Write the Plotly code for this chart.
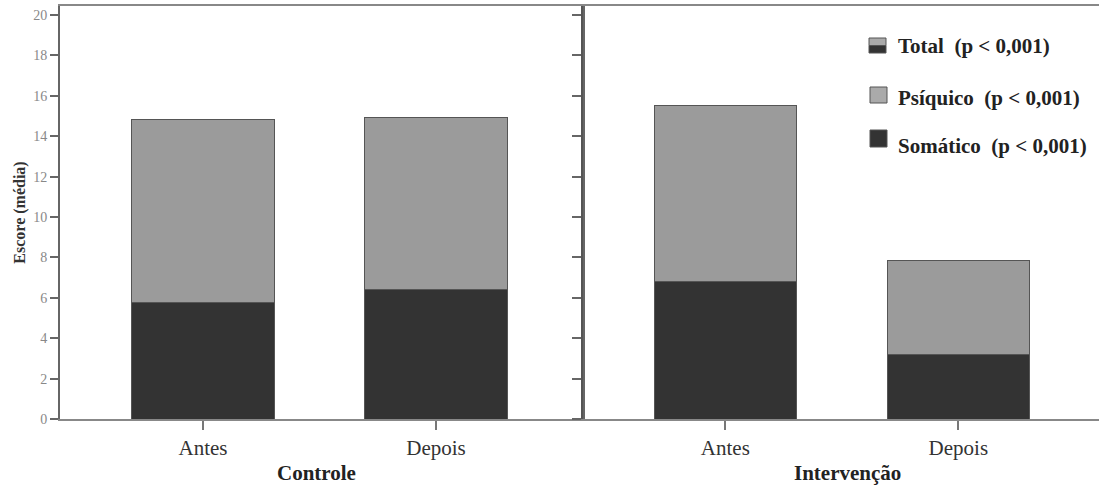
import plotly.graph_objects as go

# ---- data ----
fases = ["Antes", "Depois"]
grupos = ["Controle", "Intervenção"]
somatico_controle = [5.77, 6.43]
psiquico_controle = [9.07, 8.52]
somatico_intervencao = [6.82, 3.19]
psiquico_intervencao = [8.70, 4.64]
y_ticks = [0, 2, 4, 6, 8, 10, 12, 14, 16, 18, 20]
legend_labels = ["Total  (p < 0,001)", "Psíquico  (p < 0,001)", "Somático  (p < 0,001)"]

COL_SOM = "#333333"
COL_PSI = "#9b9b9b"
EDGE = "#555555"
FONT = "Liberation Serif"

W, H = 1099, 485
ML, MR, MT, MB = 60, 0, 6, 66
PW, PH = W - ML - MR, H - MT - MB

def px(x):
    return (x - ML) / PW

def py(y):
    return (H - MB - y) / PH

split = px(583)

fig = go.Figure()
for xa, ya, som, psi in [("x", "y", somatico_controle, psiquico_controle),
                         ("x2", "y2", somatico_intervencao, psiquico_intervencao)]:
    fig.add_trace(go.Bar(x=fases, y=som, xaxis=xa, yaxis=ya, width=0.61,
                         marker=dict(color=COL_SOM, line=dict(color=EDGE, width=1)),
                         name="Somático", showlegend=False))
    fig.add_trace(go.Bar(x=fases, y=psi, xaxis=xa, yaxis=ya, width=0.61,
                         marker=dict(color=COL_PSI, line=dict(color=EDGE, width=1)),
                         name="Psíquico", showlegend=False))

axis_common = dict(showgrid=False, zeroline=False, automargin=False)
fig.update_layout(
    width=W, height=H, barmode="stack",
    margin=dict(l=ML, r=MR, t=MT, b=MB),
    paper_bgcolor="white", plot_bgcolor="white",
    font=dict(family=FONT, color="#222222"),
    showlegend=False,
    xaxis=dict(domain=[0, split], range=[-0.614, 1.631], showline=True, linecolor="#888888",
               linewidth=1.5, mirror=True, ticks="outside", ticklen=9, tickcolor="#777777",
               tickwidth=1.5, tickfont=dict(size=21, color="#333333", family=FONT), **axis_common),
    xaxis2=dict(domain=[split, 1], range=[-0.611, -0.611 + 516 / 233], anchor="y2",
                showline=True, linecolor="#888888", linewidth=1.5, mirror=True,
                ticks="outside", ticklen=9, tickcolor="#777777", tickwidth=1.5,
                tickfont=dict(size=21, color="#333333", family=FONT), **axis_common),
    yaxis=dict(range=[0, 20.45], tickvals=y_ticks, showline=True, linecolor="#666666",
               linewidth=2, mirror=True, ticks="outside", ticklen=8, tickcolor="#666666",
               tickwidth=1.5, tickfont=dict(size=14, color="#888888", family=FONT),
               title=dict(text="<b>Escore (média)</b>", font=dict(size=16, color="#333333", family=FONT),
                          standoff=4), **axis_common),
    yaxis2=dict(range=[0, 20.45], tickvals=y_ticks, anchor="x2", showline=True,
                linecolor="#555555", linewidth=2, ticks="outside", ticklen=9,
                tickcolor="#666666", tickwidth=1.5, showticklabels=False, **axis_common),
)

# group titles
for grp, xc in zip(grupos, [316, 847]):
    fig.add_annotation(text="<b>" + grp + "</b>", x=px(xc), y=py(473), xref="paper", yref="paper",
                       xanchor="center", yanchor="middle", showarrow=False,
                       font=dict(size=21, color="#222222", family=FONT))

# legend drawn manually (Total icon is two-tone)
def box(x0, y0, x1, y1, color):
    fig.add_shape(type="rect", xref="paper", yref="paper", x0=px(x0), x1=px(x1),
                  y0=py(y1), y1=py(y0), fillcolor=color, line=dict(color=EDGE, width=1))

box(869, 38, 886, 45.5, "#aaaaaa")
box(869, 45.5, 886, 53, COL_SOM)
box(870, 87, 887, 103, "#aaaaaa")
box(870, 130, 887, 147, COL_SOM)

for lab, yc in zip(legend_labels, [46, 98, 146]):
    fig.add_annotation(text="<b>" + lab + "</b>", x=px(896), y=py(yc), xref="paper", yref="paper",
                       xanchor="left", yanchor="middle", showarrow=False,
                       font=dict(size=21, color="#222222", family=FONT))

fig.write_html("out.html", config={"displayModeBar": False},
               post_script="document.body.style.margin='0';document.body.style.overflow='hidden';")
